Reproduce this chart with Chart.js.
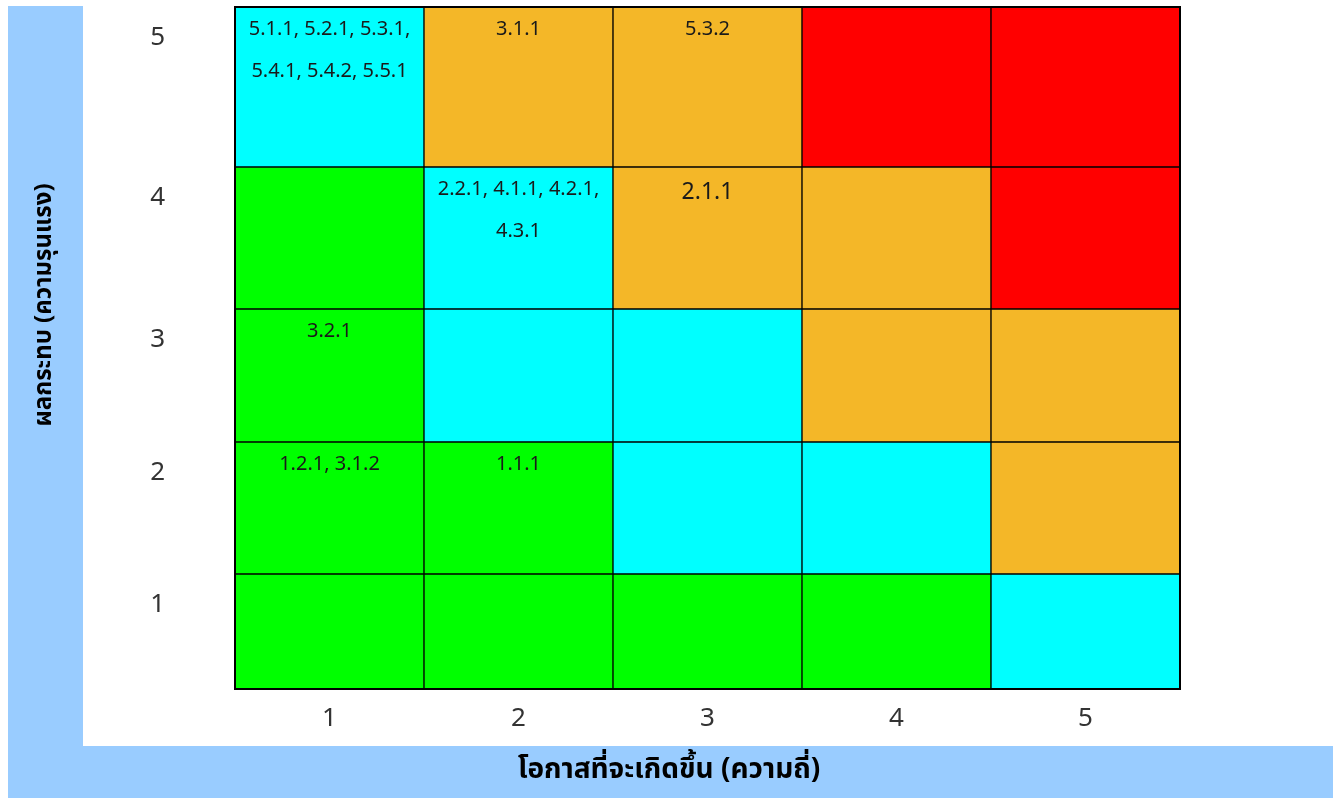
<!DOCTYPE html>
<html>
<head>
<meta charset="utf-8">
<script src="https://cdn.jsdelivr.net/npm/chart.js@4"></script>
<style>
  html, body { margin: 0; padding: 0; background: #fff; }
  #wrap { width: 1338px; height: 798px; }
</style>
</head>
<body>
<div id="wrap"><canvas id="chart"></canvas></div>
<script>
// likelihood (x) and impact (y) levels
const xLabels = ['1', '2', '3', '4', '5'];
const yLabels = ['1', '2', '3', '4', '5'];
const xTitle = 'โอกาสที่จะเกิดขึ้น (ความถี่)';
const yTitle = 'ผลกระทบ (ความรุนแรง)';

// risk level for each cell, rows from impact 1 (bottom) to 5 (top)
const levelRow1 = ['low', 'low', 'low', 'low', 'mid'];
const levelRow2 = ['low', 'low', 'mid', 'mid', 'high'];
const levelRow3 = ['low', 'mid', 'mid', 'high', 'high'];
const levelRow4 = ['low', 'mid', 'high', 'high', 'extreme'];
const levelRow5 = ['mid', 'high', 'high', 'extreme', 'extreme'];

// item codes written in each cell
const notesRow1 = ['', '', '', '', ''];
const notesRow2 = [['1.2.1, 3.1.2'], ['1.1.1'], '', '', ''];
const notesRow3 = [['3.2.1'], '', '', '', ''];
const notesRow4 = ['', ['2.2.1, 4.1.1, 4.2.1,', '4.3.1'], ['2.1.1'], '', ''];
const notesRow5 = [['5.1.1, 5.2.1, 5.3.1,', '5.4.1, 5.4.2, 5.5.1'], ['3.1.1'], ['5.3.2'], '', ''];

const levels = [levelRow1, levelRow2, levelRow3, levelRow4, levelRow5];
const notes = [notesRow1, notesRow2, notesRow3, notesRow4, notesRow5];

// the table rows are not all the same height
const rowWeights = [115, 132, 133, 142, 160];

const levelColors = { low: '#00FF00', mid: '#00FFFF', high: '#F4B728', extreme: '#FF0000' };
const thaiFont = '"Noto Sans Thai", "Noto Sans", "DejaVu Sans", sans-serif';
const bandColor = '#99CCFF';

const rowTops = rowWeights.map((_, i) => rowWeights.slice(0, i + 1).reduce((a, b) => a + b, 0));
const totalHeight = rowTops[rowTops.length - 1];

const datasets = yLabels.map((label, r) => ({
  label: 'impact ' + label,
  data: xLabels.map(() => rowWeights[r]),
  backgroundColor: levels[r].map(l => levelColors[l]),
  borderColor: '#000',
  borderWidth: 1,
  borderSkipped: false,
  categoryPercentage: 1,
  barPercentage: 1,
}));

// light blue strips behind the axis titles
const bands = {
  id: 'bands',
  beforeDraw(chart) {
    const { ctx, width, height } = chart;
    ctx.save();
    ctx.fillStyle = bandColor;
    ctx.fillRect(8, 6, 75, height - 6);
    ctx.fillRect(8, height - 52, width - 13, 52);
    ctx.fillStyle = '#000';
    ctx.textAlign = 'center';
    ctx.textBaseline = 'middle';
    ctx.font = 'bold 28px ' + thaiFont;
    ctx.fillText(xTitle, width / 2, height - 26);
    ctx.translate(46, 305);
    ctx.rotate(-Math.PI / 2);
    ctx.font = 'bold 24px ' + thaiFont;
    ctx.fillText(yTitle, 0, 0);
    ctx.restore();
  }
};

const cellText = {
  id: 'cellText',
  afterDatasetsDraw(chart) {
    const { ctx, chartArea } = chart;
    ctx.save();
    ctx.textAlign = 'center';
    ctx.textBaseline = 'middle';
    ctx.fillStyle = '#1a1a1a';
    notes.forEach((row, r) => {
      const meta = chart.getDatasetMeta(r);
      row.forEach((lines, c) => {
        if (!lines) return;
        const bar = meta.data[c];
        const big = lines.length === 1 && r === 3;
        ctx.font = (big ? '23px ' : '20px ') + thaiFont;
        lines.forEach((t, i) => ctx.fillText(t, bar.x, bar.y + (big ? 27 : 24) + i * 42));
      });
    });
    ctx.lineWidth = 2;
    ctx.strokeStyle = '#000';
    ctx.strokeRect(chartArea.left, chartArea.top, chartArea.right - chartArea.left, chartArea.bottom - chartArea.top);
    ctx.restore();
  }
};

new Chart(document.getElementById('chart'), {
  type: 'bar',
  data: { labels: xLabels, datasets },
  options: {
    responsive: true,
    maintainAspectRatio: false,
    animation: false,
    layout: { padding: { top: 7, right: 158, left: 0, bottom: 0 } },
    plugins: { legend: { display: false }, tooltip: { enabled: false } },
    scales: {
      x: {
        stacked: true,
        grid: { display: false, drawTicks: false },
        border: { display: false },
        ticks: { color: '#333', font: { family: thaiFont, size: 26 }, padding: 16 },
        afterFit: (scale) => { scale.height = 109; },
      },
      y: {
        stacked: true,
        min: 0,
        max: totalHeight,
        grid: { display: false, drawTicks: false },
        border: { display: false },
        afterBuildTicks: (scale) => { scale.ticks = rowTops.map(v => ({ value: v })); },
        ticks: {
          color: '#333',
          font: { family: thaiFont, size: 26 },
          padding: 70,
          labelOffset: 33,
          callback: (v, i) => yLabels[i],
        },
        afterFit: (scale) => {
          scale.width = 235;
          scale.paddingTop = 0;
          scale.paddingBottom = 0;
        },
      },
    },
  },
  plugins: [bands, cellText],
});
</script>
</body>
</html>
